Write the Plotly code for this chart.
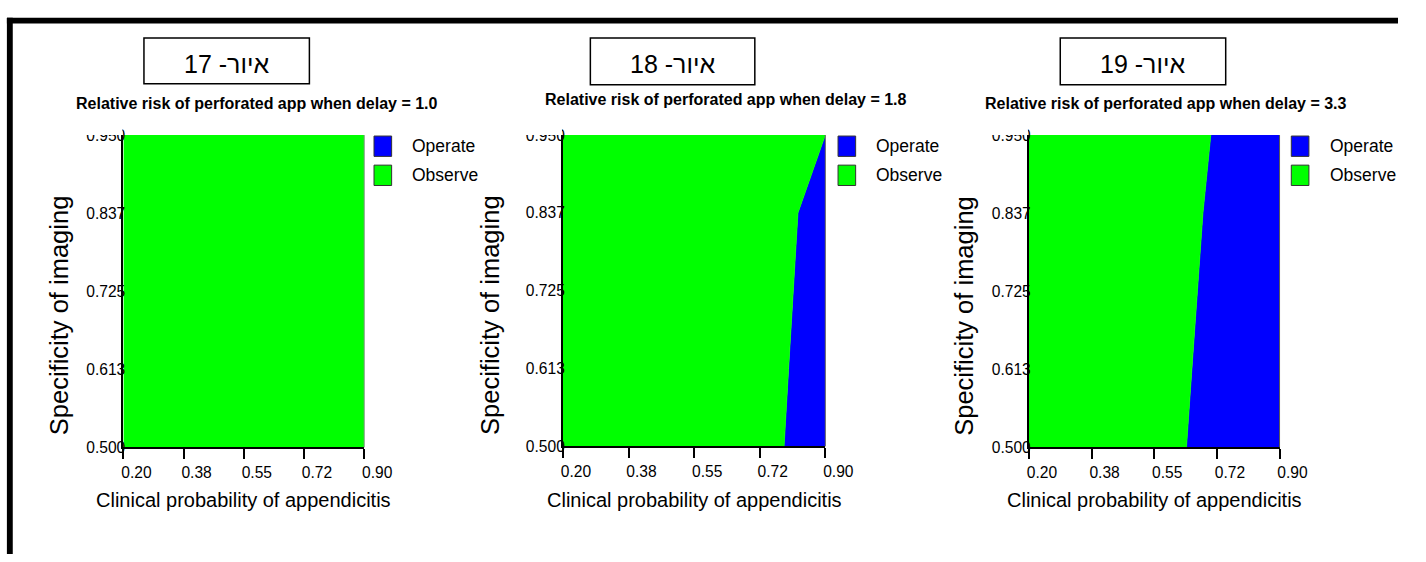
import plotly.graph_objects as go

# ---------------- data ----------------
figure_labels = ["איור- 17", "איור- 18", "איור- 19"]
delays = ["1.0", "1.8", "3.3"]
specificity = [0.5, 0.6125, 0.725, 0.8375, 0.95]
# clinical-probability threshold above which "Operate" is preferred, per specificity
threshold_delay_1_0 = [0.900, 0.900, 0.900, 0.900, 0.900]
threshold_delay_1_8 = [0.790, 0.802, 0.815, 0.827, 0.900]
threshold_delay_3_3 = [0.640, 0.655, 0.671, 0.686, 0.708]
thresholds = [threshold_delay_1_0, threshold_delay_1_8, threshold_delay_3_3]
x_tick_vals = [0.2, 0.375, 0.55, 0.725, 0.9]
x_tick_text = ["0.20", "0.38", "0.55", "0.72", "0.90"]
y_tick_text = ["0.500", "0.613", "0.725", "0.837", "0.950"]
legend_labels = ["Operate", "Observe"]
x_title = "Clinical probability of appendicitis"
y_title = "Specificity of imaging"
X_MIN, X_MAX = 0.2, 0.9
Y_MIN, Y_MAX = 0.5, 0.95

# ---------------- layout helpers ----------------
W, H = 1426, 562
GREEN = "#00FF00"
BLUE = "#0000FF"
SANS = "Liberation Sans, Arial, sans-serif"


def fx(x):
    return x / W


def fy(y):
    return 1 - y / H


panels = [
    dict(left=124, right=370, top=130, bottom=452, box=(145, 314, 30, 77), tx=260, ty=97, leg=380, ytx=59),
    dict(left=573, right=841, top=130, bottom=451, box=(601, 769, 30, 78), tx=740, ty=93, leg=854, ytx=499),
    dict(left=1049, right=1305, top=130, bottom=452, box=(1081, 1250, 30, 78), tx=1189, ty=97, leg=1317, ytx=983),
]

fig = go.Figure()
shapes = []
annotations = []

for i, p in enumerate(panels):
    n = "" if i == 0 else str(i + 1)
    xa, ya = "x" + n, "y" + n
    thr = thresholds[i]

    # Operate region (right of threshold)
    bx = list(thr) + [X_MAX, X_MAX]
    by = list(specificity) + [Y_MAX, Y_MIN]
    fig.add_trace(go.Scatter(
        x=bx, y=by, fill="toself", mode="lines", line=dict(width=0, color=BLUE),
        fillcolor=BLUE,
        xaxis=xa, yaxis=ya, showlegend=False, hoverinfo="skip"))
    # Observe region (left of threshold)
    gx = [X_MIN] + list(thr) + [X_MIN]
    gy = [Y_MIN] + list(specificity) + [Y_MAX]
    fig.add_trace(go.Scatter(
        x=gx, y=gy, fill="toself", mode="lines", line=dict(width=0.8, color=GREEN),
        fillcolor=GREEN,
        xaxis=xa, yaxis=ya, showlegend=False, hoverinfo="skip"))

    xdom = [fx(p["left"]), fx(p["right"])]
    ydom = [fy(p["bottom"]), fy(p["top"])]
    fig.update_layout(**{
        ("xaxis" + n): dict(
            domain=xdom, range=[X_MIN, X_MAX], anchor=ya, tickmode="array",
            tickvals=x_tick_vals, ticktext=x_tick_text, ticks="outside", ticklen=10,
            tickwidth=1.5, tickcolor="black", showline=True, linecolor="black", linewidth=2,
            showgrid=False, zeroline=False, ticklabelshift=13,
            tickfont=dict(family=SANS, size=15.6, color="black"), fixedrange=True),
        ("yaxis" + n): dict(
            domain=ydom, range=[Y_MIN, Y_MAX], anchor=xa, tickmode="array",
            tickvals=specificity, ticktext=y_tick_text, ticks="", showline=True,
            linecolor="black", linewidth=2, showgrid=False, zeroline=False,
            ticklabelstandoff=-7,
            tickfont=dict(family=SANS, size=15.6, color="black"), fixedrange=True),
    })

    # right edge of plot area
    shapes.append(dict(type="line", xref=xa + " domain", yref=ya + " domain", x0=1, x1=1, y0=0, y1=1,
                       line=dict(color="#555555" if i else "#7a9a7a", width=1), layer="above"))
    # hide upper half of the top y tick label (clipped in the original)
    shapes.append(dict(type="rect", xref="paper", yref="paper",
                       x0=fx(p["left"] - 50), x1=fx(p["left"] - 1), y0=fy(130), y1=fy(112),
                       fillcolor="white", line=dict(width=0), layer="above"))

    # figure-number box
    b = p["box"]
    shapes.append(dict(type="rect", xref="paper", yref="paper",
                       x0=fx(b[0]), x1=fx(b[1]), y0=fy(b[3]), y1=fy(b[2]),
                       line=dict(color="black", width=1.5), fillcolor="white"))
    annotations.append(dict(text=figure_labels[i], xref="paper", yref="paper",
                            x=fx((b[0] + b[1]) / 2), y=fy((b[2] + b[3]) / 2 + 3),
                            showarrow=False, xanchor="center", yanchor="middle",
                            font=dict(family=SANS, size=25, color="black")))
    # chart title
    annotations.append(dict(text="<b>Relative risk of perforated app when delay = %s</b>" % delays[i],
                            xref="paper", yref="paper", x=fx(p["tx"]), y=fy(p["ty"]),
                            showarrow=False, xanchor="center", yanchor="middle",
                            font=dict(family=SANS, size=16, color="black")))
    # axis titles
    annotations.append(dict(text=x_title, xref="paper", yref="paper",
                            x=fx((p["left"] + p["right"]) / 2), y=fy(506),
                            showarrow=False, xanchor="center", yanchor="middle",
                            font=dict(family=SANS, size=20, color="black")))
    annotations.append(dict(text=y_title, xref="paper", yref="paper",
                            x=fx(p["ytx"]), y=fy(316), textangle=-90,
                            showarrow=False, xanchor="center", yanchor="middle",
                            font=dict(family=SANS, size=25.5, color="black")))
    # legend
    for k, (lab, col) in enumerate(zip(legend_labels, [BLUE, GREEN])):
        top = 131 + k * 30
        shapes.append(dict(type="rect", xref="paper", yref="paper",
                           x0=fx(p["leg"]), x1=fx(p["leg"] + 18), y0=fy(top + 21), y1=fy(top),
                           fillcolor=col, line=dict(color="#333333", width=1)))
        annotations.append(dict(text=lab, xref="paper", yref="paper",
                                x=fx(p["leg"] + 37), y=fy(top + 10), showarrow=False,
                                xanchor="left", yanchor="middle",
                                font=dict(family=SANS, size=17.5, color="black")))

# outer frame (top and left bars)
shapes.append(dict(type="rect", xref="paper", yref="paper", x0=fx(5), x1=1, y0=fy(15), y1=fy(9),
                   fillcolor="black", line=dict(width=0)))
shapes.append(dict(type="rect", xref="paper", yref="paper", x0=fx(5), x1=fx(11), y0=0, y1=fy(9),
                   fillcolor="black", line=dict(width=0)))

fig.update_layout(
    width=W, height=H, margin=dict(l=0, r=0, t=0, b=0),
    paper_bgcolor="white", plot_bgcolor="white",
    shapes=shapes, annotations=annotations, showlegend=False,
)

fig.write_html(
    "out.html", config={"displayModeBar": False},
    post_script=(
        "document.documentElement.style.margin='0';document.documentElement.style.padding='0';"
        "document.documentElement.style.overflow='hidden';"
        "document.body.style.margin='0';document.body.style.padding='0';document.body.style.overflow='hidden';"
        "var d=document.getElementById('{plot_id}');d.style.position='fixed';d.style.top='0px';d.style.left='0px';"
        "var vw=document.documentElement.clientWidth||window.innerWidth;"
        "var vh=document.documentElement.clientHeight||window.innerHeight;"
        "if(vw>0&&vh>0&&(vw!==%d||vh!==%d)){Plotly.relayout(d,{width:vw,height:vh});}" % (W, H)
    ),
)
